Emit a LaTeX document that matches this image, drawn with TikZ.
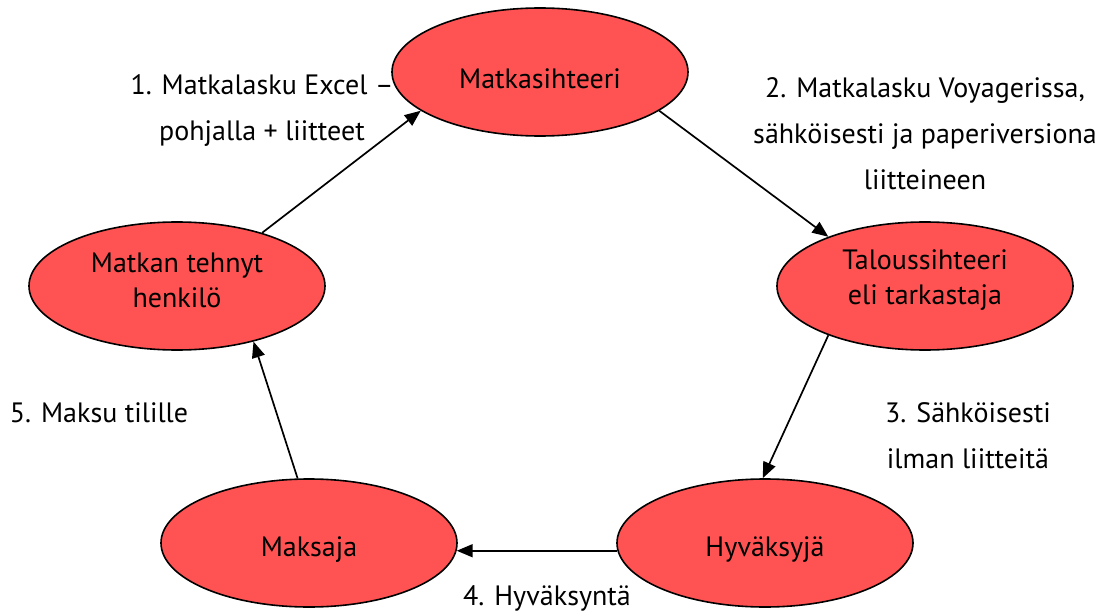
\documentclass[tikz,border=0pt]{standalone}
\usepackage{fontspec}
\setmainfont{PT Sans}
\usetikzlibrary{shapes.geometric,arrows.meta}
\definecolor{boxred}{RGB}{255,83,83}
\tikzset{
  role/.style={ellipse, draw=black, line width=1.6pt, fill=boxred, inner sep=0pt,
    minimum width=296pt, minimum height=128pt},
  roletext/.style={align=center, font=\fontsize{28}{35}\selectfont, inner sep=0pt},
  flow/.style={-{Triangle[length=16pt,width=13pt]}, line width=1.7pt},
  lbl/.style={align=center, font=\fontsize{28}{46}\selectfont, inner sep=0pt}
}
\begin{document}
\begin{tikzpicture}[x=1pt,y=-1pt]
\useasboundingbox (0,0) rectangle (1112,615);
\node[role, label={[roletext,yshift=-7pt]center:Matkasihteeri}] (m) at (540,72) {};
\node[role, label={[roletext,yshift=6pt]center:Taloussihteeri\\eli tarkastaja}] (t) at (925,286) {};
\node[role, label={[roletext,yshift=6pt]center:Matkan tehnyt\\henkilö}] (p) at (177,286) {};
\node[role, label={[roletext,yshift=-7pt]center:Maksaja}] (k) at (309,543) {};
\node[role, label={[roletext,yshift=-7pt]center:Hyväksyjä}] (h) at (765,543) {};

\draw[flow] (p.32.3) -- (m.198.9);
\draw[flow] (m.-18) -- (t.153.9);
\draw[flow] (t.207.7) -- (h.92);
\draw[flow] (h.183.5) -- (k.-3.5);
\draw[flow] (k.100.6) -- (p.-36.5);

\node[lbl] (l1) at (262,111) {1. Matkalasku Excel –\\pohjalla + liitteet};
\node[lbl] (l2) at (925,134) {2. Matkalasku Voyagerissa,\\sähköisesti ja paperiversiona\\liitteineen};
\node[lbl] (l3) at (968,436) {3. Sähköisesti\\ilman liitteitä};
\node[lbl] (l4) at (547,598) {4. Hyväksyntä};
\node[lbl] (l5) at (99,413) {5. Maksu tilille};
\end{tikzpicture}
\end{document}
